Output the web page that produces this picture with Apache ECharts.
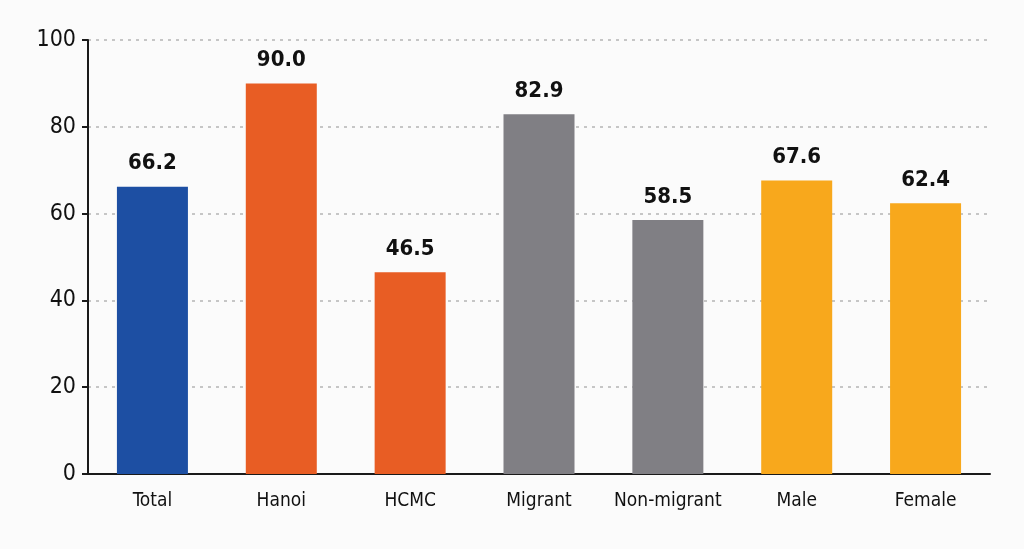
<!DOCTYPE html>
<html>
<head>
<meta charset="utf-8">
<script src="https://cdn.jsdelivr.net/npm/echarts@6/dist/echarts.min.js"></script>
<style>
  html, body { margin: 0; padding: 0; background: #fbfbfb; }
  #main { width: 1024px; height: 549px; }
</style>
</head>
<body>
<div id="main"></div>
<script>
// categories and values
const categories = ['Total', 'Hanoi', 'HCMC', 'Migrant', 'Non-migrant', 'Male', 'Female'];
const values = [66.2, 90.0, 46.5, 82.9, 58.5, 67.6, 62.4];
const barColors = ['#1d4fa3', '#e85d24', '#e85d24', '#807f84', '#807f84', '#f8a81c', '#f8a81c'];
const yTicks = [0, 20, 40, 60, 80, 100];

const font = "'Liberation Sans Narrow', 'DejaVu Sans Condensed', sans-serif";

const chart = echarts.init(document.getElementById('main'));

const option = {
    backgroundColor: '#fbfbfb',
    animation: false,
    grid: { left: 88, right: 34, top: 40, bottom: 75 },
    xAxis: {
        type: 'category',
        data: categories,
        axisLine: { lineStyle: { color: '#1a1a1a', width: 2 } },
        axisTick: { show: false },
        axisLabel: {
            interval: 0,
            color: '#111',
            fontFamily: font,
            fontSize: 19,
            margin: 18
        }
    },
    yAxis: {
        type: 'value',
        min: yTicks[0],
        max: yTicks[yTicks.length - 1],
        interval: 20,
        axisLine: { show: true, lineStyle: { color: '#1a1a1a', width: 2 } },
        axisTick: { show: true, length: 6, lineStyle: { color: '#1a1a1a', width: 2 } },
        axisLabel: {
            color: '#111',
            fontFamily: font,
            fontSize: 23,
            margin: 12
        },
        splitLine: { lineStyle: { color: '#b5b5b5', type: [3, 5], width: 1.5 } }
    },
    series: [{
        type: 'bar',
        barWidth: 71,
        data: values.map((v, i) => ({ value: v, itemStyle: { color: barColors[i] } })),
        label: {
            show: true,
            position: 'top',
            distance: 12,
            formatter: p => p.value.toFixed(1),
            color: '#111',
            fontFamily: font,
            fontWeight: 'bold',
            fontSize: 22
        }
    }]
};

chart.setOption(option);
</script>
</body>
</html>
